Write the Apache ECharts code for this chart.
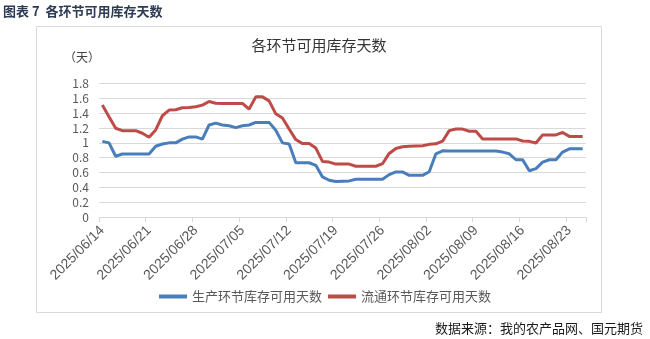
<!DOCTYPE html>
<html>
<head>
<meta charset="utf-8">
<script src="https://cdn.jsdelivr.net/npm/echarts@6/dist/echarts.min.js"></script>
<style>
html,body{margin:0;padding:0;background:#fff;}
#c{width:650px;height:339px;}
</style>
</head>
<body>
<div id="c"></div>
<script>
var categories = [
"2025/06/14","2025/06/15","2025/06/16","2025/06/17","2025/06/18","2025/06/19","2025/06/20",
"2025/06/21","2025/06/22","2025/06/23","2025/06/24","2025/06/25","2025/06/26","2025/06/27",
"2025/06/28","2025/06/29","2025/06/30","2025/07/01","2025/07/02","2025/07/03","2025/07/04",
"2025/07/05","2025/07/06","2025/07/07","2025/07/08","2025/07/09","2025/07/10","2025/07/11",
"2025/07/12","2025/07/13","2025/07/14","2025/07/15","2025/07/16","2025/07/17","2025/07/18",
"2025/07/19","2025/07/20","2025/07/21","2025/07/22","2025/07/23","2025/07/24","2025/07/25",
"2025/07/26","2025/07/27","2025/07/28","2025/07/29","2025/07/30","2025/07/31","2025/08/01",
"2025/08/02","2025/08/03","2025/08/04","2025/08/05","2025/08/06","2025/08/07","2025/08/08",
"2025/08/09","2025/08/10","2025/08/11","2025/08/12","2025/08/13","2025/08/14","2025/08/15",
"2025/08/16","2025/08/17","2025/08/18","2025/08/19","2025/08/20","2025/08/21","2025/08/22",
"2025/08/23","2025/08/24","2025/08/25"
];
var productionDays = [
1.02,1.00,0.82,0.85,0.85,0.85,0.85,
0.85,0.955,0.985,1.00,1.00,1.05,1.08,
1.08,1.05,1.24,1.265,1.24,1.23,1.205,
1.23,1.24,1.275,1.275,1.275,1.17,1.00,
0.985,0.733,0.733,0.733,0.698,0.542,0.498,
0.48,0.485,0.489,0.51,0.51,0.51,0.51,
0.51,0.573,0.609,0.609,0.564,0.564,0.564,
0.612,0.853,0.893,0.89,0.89,0.89,0.89,
0.89,0.89,0.89,0.89,0.876,0.853,0.773,
0.773,0.625,0.653,0.742,0.773,0.773,0.876,
0.92,0.92,0.92
];
var circulationDays = [
1.507,1.35,1.196,1.164,1.164,1.164,1.129,
1.076,1.173,1.364,1.44,1.444,1.471,1.476,
1.484,1.507,1.556,1.533,1.53,1.53,1.53,
1.53,1.453,1.618,1.618,1.564,1.39,1.333,
1.187,1.044,0.99,0.99,0.93,0.751,0.742,
0.715,0.715,0.715,0.686,0.686,0.686,0.686,
0.72,0.858,0.925,0.947,0.953,0.958,0.96,
0.98,0.987,1.022,1.164,1.185,1.185,1.156,
1.156,1.053,1.053,1.053,1.053,1.053,1.053,
1.025,1.02,0.998,1.107,1.107,1.107,1.14,
1.087,1.087,1.087
];
var seriesNames = ["生产环节库存可用天数","流通环节库存可用天数"];
var yTicks = {min:0, max:1.8, interval:0.2};

var cjk = '"Noto Sans CJK SC", sans-serif';
var chart = echarts.init(document.getElementById('c'), null, {renderer:'canvas'});
chart.setOption({
  animation:false,
  backgroundColor:'#ffffff',
  graphic:[
    {type:'rect', shape:{x:36.5,y:26.5,width:565,height:286}, style:{fill:'none', stroke:'#d9d9d9', lineWidth:1}, z:-1},
    {type:'text', x:3, y:11, style:{text:'图表 7  各环节可用库存天数', fill:'#2e3b55', font:'bold 13px ' + cjk, textVerticalAlign:'middle'}},
    {type:'text', x:319, y:45, style:{text:'各环节可用库存天数', fill:'#333333', font:'15px ' + cjk, textAlign:'center', textVerticalAlign:'middle'}},
    {type:'text', x:64, y:57, style:{text:'（天）', fill:'#404040', font:'12px ' + cjk, textVerticalAlign:'middle'}},
    {type:'text', x:643, y:328, style:{text:'数据来源：我的农产品网、国元期货', fill:'#1a1a1a', font:'13px ' + cjk, textAlign:'right', textVerticalAlign:'middle'}}
  ],
  legend:{
    data:seriesNames,
    left:'center', top:285,
    icon:'rect', itemWidth:28, itemHeight:4, itemGap:6,
    textStyle:{fontFamily:cjk, fontSize:13, color:'#595959'}
  },
  grid:{left:99, right:64, top:83.3, bottom:121.7, containLabel:false},
  xAxis:{
    type:'category', data:categories, boundaryGap:true,
    axisLine:{lineStyle:{color:'#d9d9d9', width:1}},
    axisTick:{show:true, interval:6, length:5, lineStyle:{color:'#d9d9d9'}},
    axisLabel:{interval:6, rotate:45, fontFamily:'"Liberation Sans", Arial, sans-serif', fontSize:14, color:'#595959', margin:11}
  },
  yAxis:{
    type:'value', min:yTicks.min, max:yTicks.max, interval:yTicks.interval,
    axisLine:{show:false}, axisTick:{show:false},
    splitLine:{lineStyle:{color:'#d9d9d9', width:1}},
    axisLabel:{fontFamily:cjk, fontSize:12, color:'#595959', margin:10,
      formatter:function(v){ var r=Math.round(v*10)/10; return (r%1===0)? String(r) : r.toFixed(1); }}
  },
  series:[
    {name:seriesNames[0], type:'line', data:productionDays, symbol:'none', smooth:false,
     lineStyle:{width:3, color:'#4a7ebb'}, itemStyle:{color:'#4a7ebb'}},
    {name:seriesNames[1], type:'line', data:circulationDays, symbol:'none', smooth:false,
     lineStyle:{width:3, color:'#be4b48'}, itemStyle:{color:'#be4b48'}}
  ]
});
</script>
</body>
</html>
